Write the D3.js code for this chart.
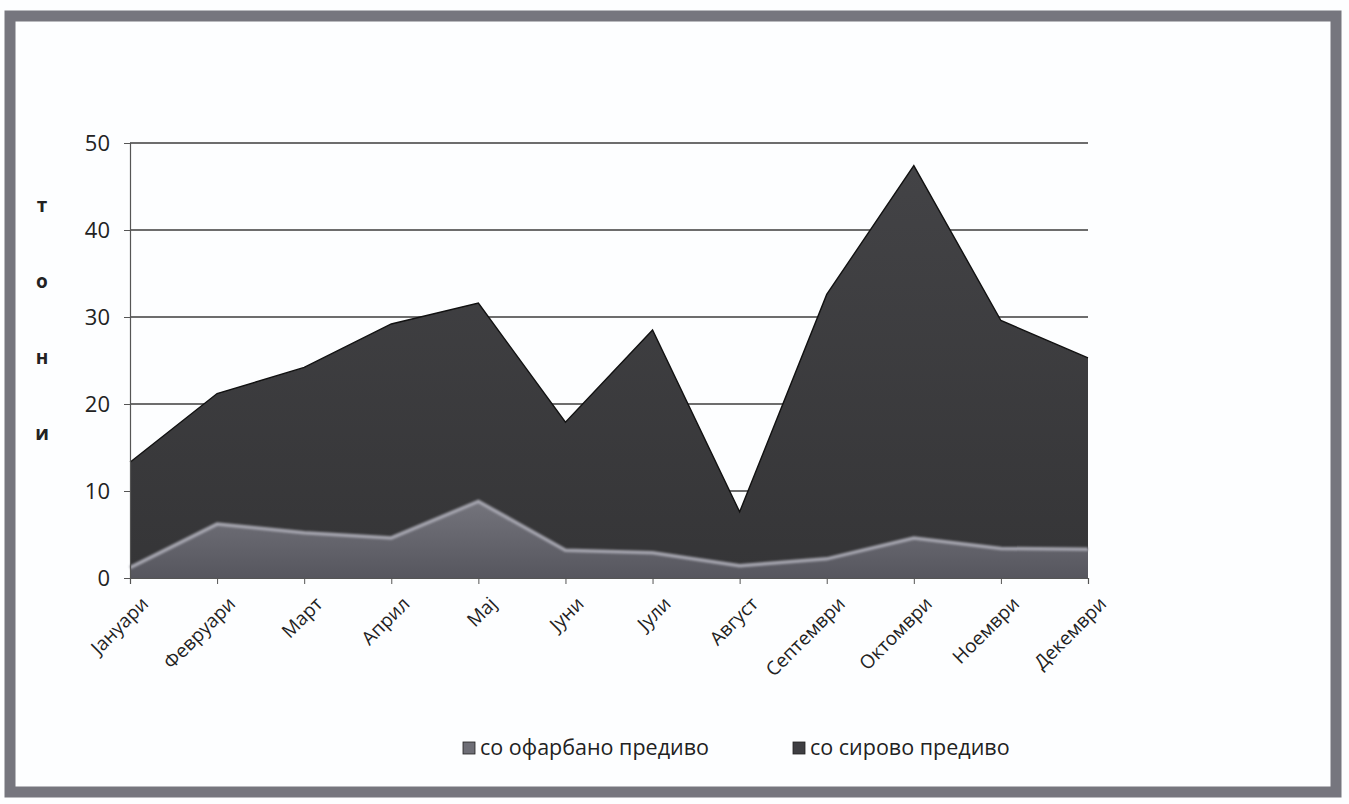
<!DOCTYPE html>
<html>
<head>
<meta charset="utf-8">
<script src="https://cdn.jsdelivr.net/npm/d3@7"></script>
<style>
  html, body { margin: 0; padding: 0; background: #fdfeff; }
  svg { display: block; }
</style>
</head>
<body>
<svg id="chart" width="1349" height="804"></svg>
<script>
// Monthly yarn volumes, in tonnes
const months = ["Јануари", "Февруари", "Март", "Април", "Мај", "Јуни",
                "Јули", "Август", "Септември", "Октомври", "Ноември", "Декември"];
const rawYarn  = [13.3, 21.2, 24.2, 29.2, 31.6, 17.9, 28.5, 7.6, 32.6, 47.4, 29.6, 25.3];
const dyedYarn = [1.2, 6.2, 5.2, 4.6, 8.8, 3.2, 2.9, 1.4, 2.2, 4.6, 3.4, 3.3];
const yTicks = [0, 10, 20, 30, 40, 50];
const seriesNames = ["со офарбано предиво", "со сирово предиво"];
const axisTitle = ["т", "о", "н", "и"];

const svg = d3.select("#chart");
const font = "'Open Sans', 'Noto Sans', sans-serif";

// outer frame
svg.append("rect")
  .attr("x", 10).attr("y", 16).attr("width", 1326).attr("height", 776)
  .attr("fill", "#fdfeff")
  .attr("stroke", "#76767e").attr("stroke-width", 11);

const plot = { left: 130, right: 1088, top: 143, bottom: 578 };

const x = d3.scalePoint().domain(months).range([plot.left, plot.right]);
const y = d3.scaleLinear().domain([0, 50]).range([plot.bottom, plot.top]);

const defs = svg.append("defs");
const gDark = defs.append("linearGradient").attr("id", "gDark")
  .attr("x1", 0).attr("y1", 0).attr("x2", 0).attr("y2", 1);
gDark.append("stop").attr("offset", "0%").attr("stop-color", "#434346");
gDark.append("stop").attr("offset", "100%").attr("stop-color", "#353537");
const gLight = defs.append("linearGradient").attr("id", "gLight")
  .attr("x1", 0).attr("y1", 0).attr("x2", 0).attr("y2", 1);
gLight.append("stop").attr("offset", "0%").attr("stop-color", "#74747c");
gLight.append("stop").attr("offset", "100%").attr("stop-color", "#56565e");
defs.append("filter").attr("id", "soft")
  .append("feGaussianBlur").attr("stdDeviation", 1.2);

// horizontal gridlines
svg.append("g")
  .selectAll("line").data(yTicks.filter(d => d > 0)).join("line")
  .attr("x1", plot.left).attr("x2", plot.right)
  .attr("y1", d => y(d)).attr("y2", d => y(d))
  .attr("stroke", "#3c3c3c").attr("stroke-width", 1.3);

const area = d3.area()
  .x((d, i) => x(months[i]))
  .y0(y(0))
  .y1(d => y(d));
const line = d3.line()
  .x((d, i) => x(months[i]))
  .y(d => y(d));

// raw yarn (back series)
svg.append("path").datum(rawYarn)
  .attr("d", area).attr("fill", "url(#gDark)");
svg.append("path").datum(rawYarn)
  .attr("d", line).attr("fill", "none")
  .attr("stroke", "#111").attr("stroke-width", 1.4);

// dyed yarn (front series)
svg.append("path").datum(dyedYarn)
  .attr("d", area).attr("fill", "url(#gLight)");
svg.append("path").datum(dyedYarn)
  .attr("d", line).attr("fill", "none")
  .attr("stroke", "#a4a4ae").attr("stroke-width", 3.5)
  .attr("filter", "url(#soft)");

// axes
const yAxis = d3.axisLeft(y).tickValues(yTicks).tickSize(6).tickPadding(14);
const gy = svg.append("g").attr("transform", `translate(${plot.left},0)`).call(yAxis);
gy.select(".domain").attr("stroke", "#555").attr("stroke-width", 1.2);
gy.selectAll(".tick line").attr("stroke", "#555");
gy.selectAll(".tick text")
  .attr("font-family", font).attr("font-size", 22).attr("fill", "#222");

const xAxis = d3.axisBottom(x).tickSize(6).tickPadding(4);
const gx = svg.append("g").attr("transform", `translate(0,${plot.bottom})`).call(xAxis);
gx.select(".domain").attr("stroke", "#555").attr("stroke-width", 1.2);
gx.selectAll(".tick line").attr("stroke", "#555");
gx.selectAll(".tick text")
  .attr("font-family", font).attr("font-size", 19).attr("fill", "#222")
  .attr("text-anchor", "end")
  .attr("dy", 0)
  .attr("transform", "translate(12,20) rotate(-45)");

// vertical axis title, one letter per line
svg.append("g").selectAll("text").data(axisTitle).join("text")
  .attr("x", 42).attr("y", (d, i) => 212 + i * 76)
  .attr("text-anchor", "middle")
  .attr("font-family", font).attr("font-weight", "bold").attr("font-size", 19)
  .attr("fill", "#222")
  .text(d => d);

// legend
const legendX = [463, 793];
const legendFill = ["#6e6e76", "#3e3e42"];
const lg = svg.append("g").selectAll("g").data(seriesNames).join("g")
  .attr("transform", (d, i) => `translate(${legendX[i]},742)`);
lg.append("rect").attr("width", 12).attr("height", 12)
  .attr("fill", (d, i) => legendFill[i]).attr("stroke", "#222").attr("stroke-width", 0.8);
lg.append("text").attr("x", 17).attr("y", 13)
  .attr("font-family", font).attr("font-size", 21.5).attr("fill", "#222")
  .text(d => d);
</script>
</body>
</html>
